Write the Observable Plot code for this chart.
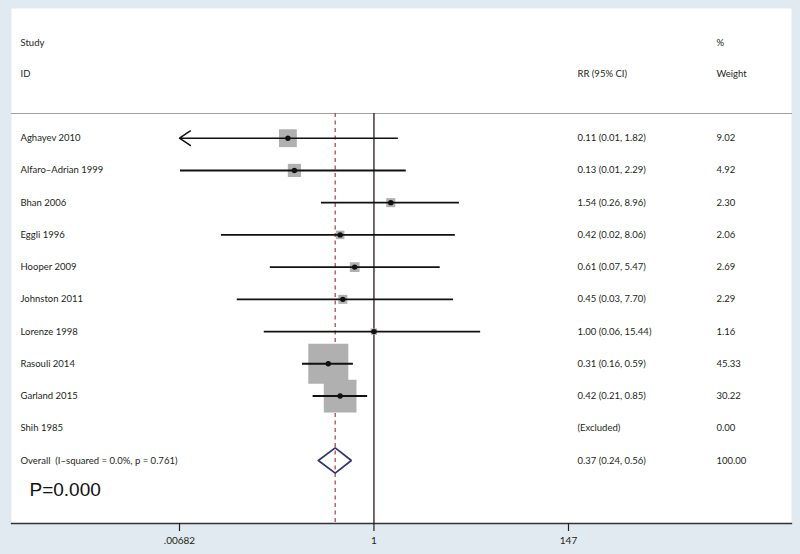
<!DOCTYPE html>
<html><head><meta charset="utf-8">
<script src="https://cdn.jsdelivr.net/npm/d3@7"></script>
<script src="https://cdn.jsdelivr.net/npm/@observablehq/plot@0.6"></script>
<style>
html,body{margin:0;padding:0;background:#e1eaf0;}
#chart svg{display:block;}
</style></head><body><div id="chart"></div>
<script>
const studies = ["Aghayev 2010","Alfaro–Adrian 1999","Bhan 2006","Eggli 1996","Hooper 2009","Johnston 2011","Lorenze 1998","Rasouli 2014","Garland 2015","Shih 1985"];
const rr      = [0.11, 0.13, 1.54, 0.42, 0.61, 0.45, 1.00, 0.31, 0.42, null];
const ciLow   = [0.005, 0.007, 0.26, 0.02, 0.07, 0.03, 0.06, 0.16, 0.21, null];
const ciHigh  = [1.82, 2.29, 8.96, 8.06, 5.47, 7.70, 15.44, 0.59, 0.85, null];
const weights = [9.02, 4.92, 2.30, 2.06, 2.69, 2.29, 1.16, 45.33, 30.22, 0.00];
const rrLabels = ["0.11 (0.01, 1.82)","0.13 (0.01, 2.29)","1.54 (0.26, 8.96)","0.42 (0.02, 8.06)","0.61 (0.07, 5.47)","0.45 (0.03, 7.70)","1.00 (0.06, 15.44)","0.31 (0.16, 0.59)","0.42 (0.21, 0.85)","(Excluded)"];
const weightLabels = ["9.02","4.92","2.30","2.06","2.69","2.29","1.16","45.33","30.22","0.00"];
const overallText = "Overall\u00a0 (I–squared = 0.0%, p = 0.761)";
const overallRR = 0.37, overallLow = 0.24, overallHigh = 0.56;
const overallRRLabel = "0.37 (0.24, 0.56)";
const overallWeightLabel = "100.00";
const pText = "P=0.000";
const xTicks = [0.00682, 1, 147];
const xTickLabels = [".00682", "1", "147"];
const xMin = 0.00682, xMax = 147;

const rows = studies.map((s, i) => ({
  i, study: s, rr: rr[i], lo: ciLow[i], hi: ciHigh[i], w: weights[i],
  rrLabel: rrLabels[i], wLabel: weightLabels[i]
}));
const oi = studies.length;
const textRows = rows.concat([{i: oi, study: overallText, rrLabel: overallRRLabel, wLabel: overallWeightLabel}]);
const ciRows = rows.filter(d => d.rr != null && d.lo >= xMin);
const arrowRows = rows.filter(d => d.rr != null && d.lo < xMin);
const tickRows = xTicks.map((v, k) => ({v, label: xTickLabels[k]}));
const h = 0.39;
const diamond = [
  {x: overallLow, y: oi}, {x: overallRR, y: oi - h}, {x: overallHigh, y: oi},
  {x: overallRR, y: oi + h}, {x: overallLow, y: oi}
];
const ink = "#231f20";
const fs = 9.5;

const chart = Plot.plot({
  width: 800, height: 554,
  marginLeft: 11, marginRight: 9, marginTop: 8, marginBottom: 31,
  style: {background: "transparent", fontFamily: "Lato, 'Open Sans', sans-serif", color: ink},
  x: {type: "log", domain: [xMin, xMax], range: [179, 568]},
  y: {type: "linear", domain: [0, 10], range: [137.7, 460], axis: null},
  r: {type: "sqrt", domain: [0, d3.max(weights)], range: [0, 22.6]},
  marks: [
    Plot.frame({fill: "white", stroke: "none"}),
    Plot.frame({anchor: "top", insetTop: 105, stroke: "#a0a0a0", strokeWidth: 1.2}),
    Plot.ruleX([overallRR], {stroke: "#b03a3c", strokeWidth: 1.2, strokeDasharray: "4,3.5", insetTop: 105}),
    Plot.ruleX([1], {stroke: "#3a2828", strokeWidth: 1.4, insetTop: 105}),
    Plot.dot(rows.filter(d => d.rr != null), {x: "rr", y: "i", r: "w", symbol: "square", fill: "#b0b0b0"}),
    Plot.ruleY(ciRows, {y: "i", x1: "lo", x2: "hi", stroke: "#111", strokeWidth: 1.9}),
    Plot.arrow(arrowRows, {x1: "hi", x2: () => xMin, y1: "i", y2: "i", stroke: "#111", strokeWidth: 1.5, headLength: 13, headAngle: 68}),
    Plot.dot(rows.filter(d => d.rr != null), {x: "rr", y: "i", r: 2.7, fill: "#111"}),
    Plot.line(diamond, {x: "x", y: "y", stroke: "#2e3570", strokeWidth: 1.7, strokeLinejoin: "miter"}),
    Plot.text(textRows, {y: "i", text: "study", frameAnchor: "left", dx: 9, textAnchor: "start", fontSize: fs, fill: ink}),
    Plot.text(textRows, {y: "i", text: "rrLabel", frameAnchor: "left", dx: 566, textAnchor: "start", fontSize: fs, fill: ink}),
    Plot.text(textRows, {y: "i", text: "wLabel", frameAnchor: "left", dx: 705, textAnchor: "start", fontSize: fs, fill: ink}),
    Plot.text(["Study"], {frameAnchor: "top-left", dx: 9, dy: 34, textAnchor: "start", lineAnchor: "middle", fontSize: fs, fill: ink}),
    Plot.text(["ID"], {frameAnchor: "top-left", dx: 9, dy: 65, textAnchor: "start", lineAnchor: "middle", fontSize: fs, fill: ink}),
    Plot.text(["%"], {frameAnchor: "top-left", dx: 705, dy: 34, textAnchor: "start", lineAnchor: "middle", fontSize: fs, fill: ink}),
    Plot.text(["Weight"], {frameAnchor: "top-left", dx: 705, dy: 65, textAnchor: "start", lineAnchor: "middle", fontSize: fs, fill: ink}),
    Plot.text(["RR (95% CI)"], {frameAnchor: "top-left", dx: 566, dy: 65, textAnchor: "start", lineAnchor: "middle", fontSize: fs, fill: ink}),
    Plot.text([pText], {frameAnchor: "bottom-left", dx: 18, dy: -34, textAnchor: "start", lineAnchor: "middle", fontSize: 19, fontFamily: "'Liberation Sans', Arial, sans-serif", fill: "#111"}),
    Plot.frame({anchor: "bottom", stroke: "#333", strokeWidth: 1.3}),
    Plot.axisX(xTicks, {tickFormat: () => "", tickSize: 8, stroke: "#222", strokeWidth: 1.2, label: null}),
    Plot.text(tickRows, {x: "v", text: "label", frameAnchor: "bottom", dy: 17, lineAnchor: "middle", fontSize: 10, fill: ink})
  ]
});
document.getElementById("chart").appendChild(chart);
</script>
</body></html>
